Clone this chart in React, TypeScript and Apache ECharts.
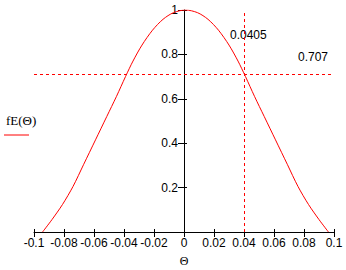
import React, { useEffect, useRef } from "react";
import * as echarts from "echarts";

const thetaValues = [
  -0.0943, -0.088, -0.081, -0.074, -0.067, -0.059, -0.0515, -0.045, -0.039,
  -0.034, -0.028, -0.021, -0.014, -0.007, 0.001, 0.009, 0.016, 0.023, 0.03,
  0.036, 0.041, 0.047, 0.0535, 0.061, 0.069, 0.076, 0.083, 0.09, 0.0963,
];
const fEValues = [
  0, 0.056, 0.124, 0.205, 0.303, 0.415, 0.52, 0.611, 0.7,
  0.77, 0.842, 0.909, 0.958, 0.988, 1.0, 0.988, 0.958, 0.909, 0.842,
  0.77, 0.7, 0.611, 0.52, 0.415, 0.303, 0.205, 0.124, 0.056, 0,
];
const xTickMin = -0.1;
const xTickMax = 0.1;
const xTickStep = 0.02;
const yTickMin = 0;
const yTickMax = 1;
const yTickStep = 0.2;
const markerTheta = 0.0405;
const markerLevel = 0.707;
const markerThetaLabel = "0.0405";
const markerLevelLabel = "0.707";
const seriesName = "fE(Θ)";
const xAxisName = "Θ";

export default function App() {
  const ref = useRef<HTMLDivElement>(null);
  useEffect(() => {
    if (!ref.current) return;
    const chart = echarts.init(ref.current, undefined, { renderer: "svg" });
    const red = "#ff0000";
    const font = "'Liberation Sans', Arial, sans-serif";
    const serif = "'Liberation Serif', 'Times New Roman', serif";
    const data = thetaValues.map((t, i) => [t, fEValues[i]]);
    const gridLeft = 34;
    const gridRight = 12;
    const gridTop = 10;
    const gridBottom = 38;
    const plotW = 346 - gridLeft - gridRight;
    const plotH = 270 - gridTop - gridBottom;
    const zeroOffset = -plotW * ((0 - xTickMin) / (xTickMax - xTickMin));
    const xBase = {
      type: "value",
      min: xTickMin,
      max: xTickMax,
      interval: xTickStep,
      splitLine: { show: false },
    };
    const yBase = {
      type: "value",
      min: yTickMin,
      max: yTickMax,
      interval: yTickStep,
      splitLine: { show: false },
    };
    chart.setOption({
      animation: false,
      grid: {
        left: gridLeft,
        right: gridRight,
        top: gridTop,
        bottom: gridBottom,
        containLabel: false,
        outerBoundsMode: "none",
      },
      xAxis: [
        {
          ...xBase,
          position: "bottom",
          axisLine: { onZero: false, lineStyle: { color: "#000", width: 1 } },
          axisTick: { show: true, length: 5, lineStyle: { color: "#000" } },
          axisLabel: {
            margin: 5,
            color: "#000",
            fontSize: 12,
            fontFamily: font,
            formatter: (v: number) => String(Math.round(v * 100) / 100),
          },
          name: xAxisName,
          nameLocation: "middle",
          nameGap: 23,
          nameTextStyle: { color: "#000", fontSize: 12, lineHeight: 12, fontFamily: serif },
        },
        {
          ...xBase,
          position: "top",
          offset: -plotH,
          axisLine: { onZero: false, show: false },
          axisTick: { show: true, length: 3, lineStyle: { color: "#000" } },
          axisLabel: { show: false },
        },
      ],
      yAxis: [
        {
          ...yBase,
          position: "left",
          offset: zeroOffset,
          axisLine: { show: true, onZero: false, lineStyle: { color: "#000", width: 1 } },
          axisTick: { show: true, length: 6, lineStyle: { color: "#000" } },
          axisLabel: {
            margin: 6,
            color: "#000",
            fontSize: 12,
            fontFamily: font,
            formatter: (v: number) => (v === 0 ? "" : String(Math.round(v * 10) / 10)),
          },
        },
        {
          ...yBase,
          position: "right",
          offset: zeroOffset,
          axisLine: { show: false, onZero: false },
          axisTick: { show: true, length: 3, lineStyle: { color: "#000" } },
          axisLabel: { show: false },
        },
      ],
      series: [
        {
          name: seriesName,
          type: "line",
          data,
          smooth: 0.3,
          showSymbol: false,
          symbol: "none",
          lineStyle: { color: red, width: 1 },
          markLine: {
            silent: true,
            symbol: "none",
            label: { show: false },
            lineStyle: { color: red, width: 1, type: [3, 3], opacity: 1 },
            data: [
              { xAxis: markerTheta, lineStyle: { color: red } },
              { yAxis: markerLevel, lineStyle: { color: red } },
            ],
          },
        },
      ],
      graphic: [
        {
          type: "text",
          left: 230,
          top: 29,
          style: { text: markerThetaLabel, fill: "#000", fontSize: 12, fontFamily: font },
        },
        {
          type: "text",
          left: 298,
          top: 51,
          style: { text: markerLevelLabel, fill: "#000", fontSize: 12, fontFamily: font },
        },
        {
          type: "text",
          left: 6,
          top: 114,
          style: { text: seriesName, fill: "#000", fontSize: 13, fontFamily: serif },
        },
        {
          type: "line",
          shape: { x1: 4, y1: 135, x2: 29, y2: 135 },
          style: { stroke: red, lineWidth: 1 },
        },
      ],
    });
    return () => chart.dispose();
  }, []);
  return (
    <div
      ref={ref}
      style={{ position: "fixed", left: 0, top: 0, width: 346, height: 270, background: "#fff" }}
    />
  );
}
